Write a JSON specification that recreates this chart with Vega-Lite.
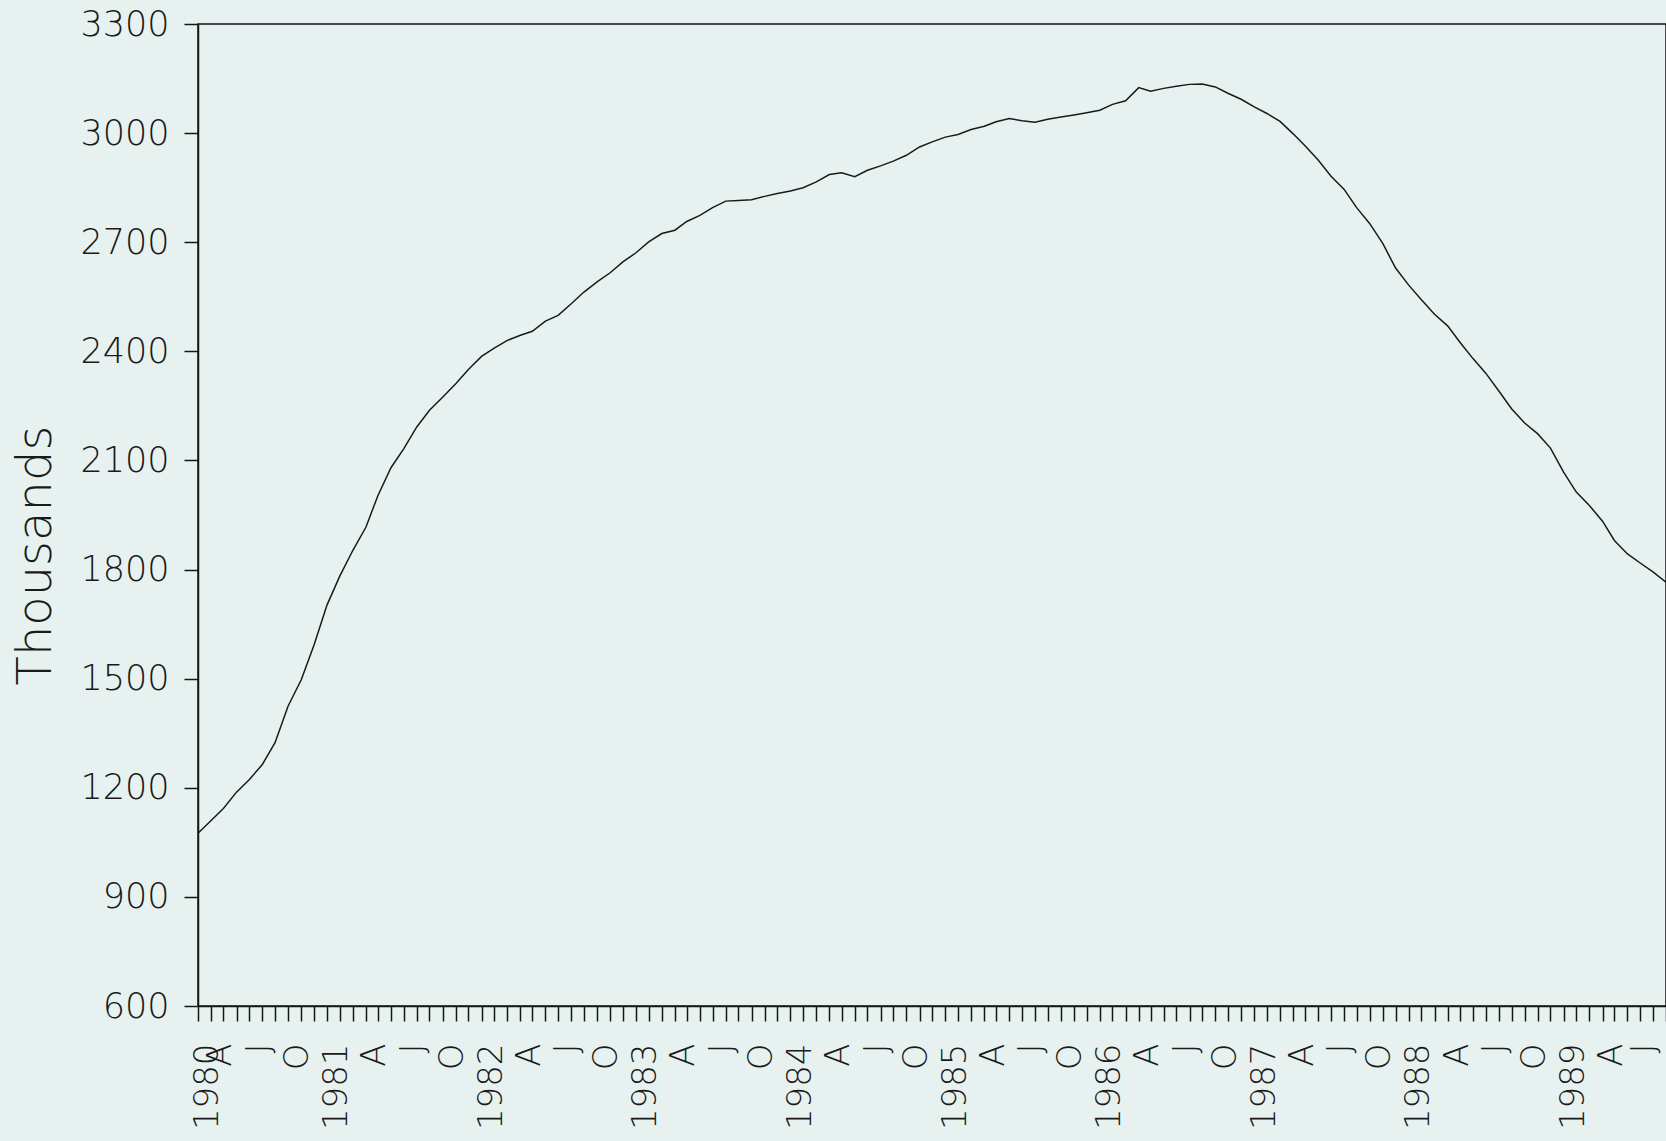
{
  "$schema": "https://vega.github.io/schema/vega-lite/v6.json",
  "autosize": "none",
  "width": 1468,
  "height": 982,
  "padding": {"left": 198, "top": 24, "right": 0, "bottom": 135},
  "background": "#e7f2f0",
  "config": {
    "view": {"stroke": "#151515", "strokeWidth": 1.5},
    "axis": {
      "labelFont": "DejaVu Sans",
      "labelFontWeight": 200,
      "labelColor": "#1a1a1a",
      "titleFont": "DejaVu Sans",
      "titleFontWeight": 200,
      "titleColor": "#1a1a1a",
      "domainColor": "#151515",
      "tickColor": "#151515",
      "domainWidth": 1.5,
      "tickWidth": 1.5,
      "grid": false
    }
  },
  "data": {
    "values": [
      {"date": "1980-01-01", "value": 1075}, {"date": "1980-02-01", "value": 1110}, {"date": "1980-03-01", "value": 1143},
      {"date": "1980-04-01", "value": 1188}, {"date": "1980-05-01", "value": 1222}, {"date": "1980-06-01", "value": 1264},
      {"date": "1980-07-01", "value": 1324}, {"date": "1980-08-01", "value": 1425}, {"date": "1980-09-01", "value": 1497},
      {"date": "1980-10-01", "value": 1592}, {"date": "1980-11-01", "value": 1703}, {"date": "1980-12-01", "value": 1782},
      {"date": "1981-01-01", "value": 1853}, {"date": "1981-02-01", "value": 1917}, {"date": "1981-03-01", "value": 2003},
      {"date": "1981-04-01", "value": 2080}, {"date": "1981-05-01", "value": 2132}, {"date": "1981-06-01", "value": 2192},
      {"date": "1981-07-01", "value": 2238}, {"date": "1981-08-01", "value": 2274}, {"date": "1981-09-01", "value": 2311},
      {"date": "1981-10-01", "value": 2350}, {"date": "1981-11-01", "value": 2386}, {"date": "1981-12-01", "value": 2409},
      {"date": "1982-01-01", "value": 2430}, {"date": "1982-02-01", "value": 2444}, {"date": "1982-03-01", "value": 2455},
      {"date": "1982-04-01", "value": 2483}, {"date": "1982-05-01", "value": 2499}, {"date": "1982-06-01", "value": 2531},
      {"date": "1982-07-01", "value": 2563}, {"date": "1982-08-01", "value": 2591}, {"date": "1982-09-01", "value": 2616},
      {"date": "1982-10-01", "value": 2646}, {"date": "1982-11-01", "value": 2671}, {"date": "1982-12-01", "value": 2701},
      {"date": "1983-01-01", "value": 2724}, {"date": "1983-02-01", "value": 2733}, {"date": "1983-03-01", "value": 2757},
      {"date": "1983-04-01", "value": 2774}, {"date": "1983-05-01", "value": 2795}, {"date": "1983-06-01", "value": 2813},
      {"date": "1983-07-01", "value": 2815}, {"date": "1983-08-01", "value": 2817}, {"date": "1983-09-01", "value": 2826},
      {"date": "1983-10-01", "value": 2834}, {"date": "1983-11-01", "value": 2841}, {"date": "1983-12-01", "value": 2850},
      {"date": "1984-01-01", "value": 2866}, {"date": "1984-02-01", "value": 2886}, {"date": "1984-03-01", "value": 2891},
      {"date": "1984-04-01", "value": 2880}, {"date": "1984-05-01", "value": 2898}, {"date": "1984-06-01", "value": 2910},
      {"date": "1984-07-01", "value": 2923}, {"date": "1984-08-01", "value": 2939}, {"date": "1984-09-01", "value": 2962},
      {"date": "1984-10-01", "value": 2976}, {"date": "1984-11-01", "value": 2989}, {"date": "1984-12-01", "value": 2996},
      {"date": "1985-01-01", "value": 3010}, {"date": "1985-02-01", "value": 3019}, {"date": "1985-03-01", "value": 3031},
      {"date": "1985-04-01", "value": 3040}, {"date": "1985-05-01", "value": 3034}, {"date": "1985-06-01", "value": 3030},
      {"date": "1985-07-01", "value": 3038}, {"date": "1985-08-01", "value": 3044}, {"date": "1985-09-01", "value": 3050},
      {"date": "1985-10-01", "value": 3056}, {"date": "1985-11-01", "value": 3063}, {"date": "1985-12-01", "value": 3079},
      {"date": "1986-01-01", "value": 3089}, {"date": "1986-02-01", "value": 3125}, {"date": "1986-03-01", "value": 3115},
      {"date": "1986-04-01", "value": 3123}, {"date": "1986-05-01", "value": 3129}, {"date": "1986-06-01", "value": 3134},
      {"date": "1986-07-01", "value": 3135}, {"date": "1986-08-01", "value": 3127}, {"date": "1986-09-01", "value": 3109},
      {"date": "1986-10-01", "value": 3093}, {"date": "1986-11-01", "value": 3072}, {"date": "1986-12-01", "value": 3054},
      {"date": "1987-01-01", "value": 3032}, {"date": "1987-02-01", "value": 2998}, {"date": "1987-03-01", "value": 2965},
      {"date": "1987-04-01", "value": 2926}, {"date": "1987-05-01", "value": 2882}, {"date": "1987-06-01", "value": 2846},
      {"date": "1987-07-01", "value": 2795}, {"date": "1987-08-01", "value": 2751}, {"date": "1987-09-01", "value": 2696},
      {"date": "1987-10-01", "value": 2629}, {"date": "1987-11-01", "value": 2582}, {"date": "1987-12-01", "value": 2542},
      {"date": "1988-01-01", "value": 2502}, {"date": "1988-02-01", "value": 2470}, {"date": "1988-03-01", "value": 2425},
      {"date": "1988-04-01", "value": 2380}, {"date": "1988-05-01", "value": 2340}, {"date": "1988-06-01", "value": 2291},
      {"date": "1988-07-01", "value": 2242}, {"date": "1988-08-01", "value": 2203}, {"date": "1988-09-01", "value": 2173},
      {"date": "1988-10-01", "value": 2134}, {"date": "1988-11-01", "value": 2068}, {"date": "1988-12-01", "value": 2013},
      {"date": "1989-01-01", "value": 1976}, {"date": "1989-02-01", "value": 1933}, {"date": "1989-03-01", "value": 1880},
      {"date": "1989-04-01", "value": 1843}, {"date": "1989-05-01", "value": 1818}, {"date": "1989-06-01", "value": 1793},
      {"date": "1989-07-01", "value": 1765}
    ]
  },
  "mark": {"type": "line", "color": "#1a1a1a", "strokeWidth": 1.5},
  "encoding": {
    "x": {
      "field": "date",
      "type": "temporal",
      "scale": {
        "type": "utc",
        "domain": [{"year": 1980, "month": 1, "date": 1, "utc": true}, {"year": 1989, "month": 7, "date": 1, "utc": true}],
        "nice": false
      },
      "axis": {
        "title": null,
        "tickCount": {"interval": "month", "step": 1},
        "labelExpr": "utcmonth(datum.value) == 0 ? utcFormat(datum.value, '%Y') : utcmonth(datum.value) == 3 ? 'A' : utcmonth(datum.value) == 6 ? 'J' : utcmonth(datum.value) == 9 ? 'O' : ''",
        "labelAngle": 270,
        "labelAlign": "right",
        "labelBaseline": "middle",
        "labelPadding": 22,
        "labelOffset": {"expr": "utcyear(datum.value) == 1980 && utcmonth(datum.value) == 0 ? 9 : (utcyear(datum.value) == 1989 && utcmonth(datum.value) == 6 ? -22 : -16)"},
        "labelFontSize": 34,
        "labelOverlap": false,
        "labelBound": false,
        "labelFlush": false,
        "tickSize": 15
      }
    },
    "y": {
      "field": "value",
      "type": "quantitative",
      "scale": {"domain": [600, 3300], "nice": false, "zero": false},
      "axis": {
        "values": [600, 900, 1200, 1500, 1800, 2100, 2400, 2700, 3000, 3300],
        "format": "d",
        "tickSize": 14,
        "labelPadding": 15,
        "labelFontSize": 35,
        "title": "Thousands",
        "titleFontSize": 48,
        "titleAngle": 270,
        "titleAlign": "center",
        "titleBaseline": "alphabetic",
        "titleX": -148,
        "titleY": 531
      }
    }
  }
}
